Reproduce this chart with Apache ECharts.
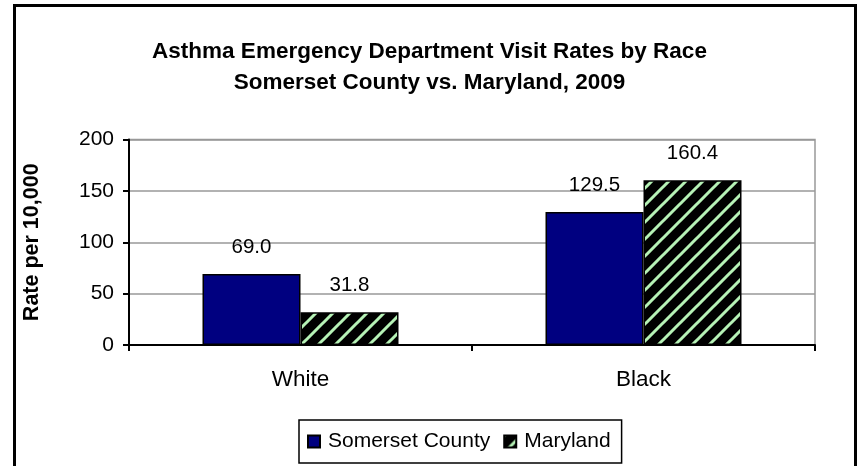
<!DOCTYPE html>
<html><head><meta charset="utf-8">
<script src="https://cdn.jsdelivr.net/npm/echarts@6/dist/echarts.min.js"></script>
<style>html,body{margin:0;padding:0;background:#fff}#c{width:859px;height:466px}</style>
</head><body><div id="c"></div>
<script>
const categories = ['White', 'Black'];
const somersetValues = [69.0, 129.5];
const marylandValues = [31.8, 160.4];
const seriesNames = ['Somerset County', 'Maryland'];
const titleLines = ['Asthma Emergency Department Visit Rates by Race', 'Somerset County vs. Maryland, 2009'];
const yAxisTitle = 'Rate per 10,000';

function stripePattern() {
  const P = 17;
  const c = document.createElement('canvas');
  c.width = P; c.height = P;
  const g = c.getContext('2d');
  g.fillStyle = '#000';
  g.fillRect(0, 0, P, P);
  g.strokeStyle = '#b6f2b6';
  g.lineWidth = 3;
  g.beginPath();
  g.moveTo(-P, P); g.lineTo(P, -P);
  g.moveTo(0, 2*P); g.lineTo(2*P, 0);
  g.moveTo(0, P); g.lineTo(P, 0);
  g.stroke();
  return c;
}
const pat = stripePattern();
const FONT = '"Liberation Sans", Arial, sans-serif';

const chart = echarts.init(document.getElementById('c'), null, {renderer: 'canvas'});
chart.setOption({
  animation: false,
  title: {
    text: titleLines.join('\n'),
    left: 'center', top: 31,
    textStyle: {fontFamily: FONT, fontWeight: 'bold', fontSize: 22.5, lineHeight: 31, color: '#000'}
  },
  graphic: [{
    type: 'rect', left: 12, top: 3, silent: true,
    shape: {x: 0, y: 0, width: 841, height: 470},
    style: {fill: 'none', stroke: '#000', lineWidth: 3}
  }],
  legend: {
    data: seriesNames,
    left: 299, top: 420,
    padding: [11, 11, 11, 8],
    itemWidth: 12, itemHeight: 12, itemGap: 13,
    borderColor: '#000', borderWidth: 1.5,
    icon: 'rect',
    textStyle: {fontFamily: FONT, fontSize: 21, color: '#000', padding: [0, 0, 0, 3]}
  },
  grid: {left: 129, right: 44, top: 139.5, bottom: 121, show: true, borderColor: '#999', borderWidth: 1.5, backgroundColor: 'transparent'},
  xAxis: {
    type: 'category', data: categories,
    axisLine: {lineStyle: {color: '#000', width: 2}},
    axisTick: {show: true, length: 6, lineStyle: {color: '#000', width: 2}},
    axisLabel: {fontFamily: FONT, fontSize: 22.5, color: '#000', margin: 23}
  },
  yAxis: {
    type: 'value', min: 0, max: 200, interval: 50,
    name: yAxisTitle, nameLocation: 'middle', nameGap: 86,
    nameTextStyle: {fontFamily: FONT, fontWeight: 'bold', fontSize: 21.5, color: '#000'},
    axisLine: {show: true, lineStyle: {color: '#000', width: 2}},
    axisTick: {show: true, length: 6, lineStyle: {color: '#000', width: 2}},
    axisLabel: {fontFamily: FONT, fontSize: 21, color: '#000', margin: 15},
    splitLine: {lineStyle: {color: '#999', width: 1.5}}
  },
  series: [{
    name: seriesNames[0], type: 'bar', data: somersetValues,
    barWidth: 98, barGap: '0%',
    itemStyle: {color: '#000080', borderColor: '#000', borderWidth: 1.5},
    label: {show: true, position: 'top', distance: 16, formatter: p => p.value.toFixed(1), fontFamily: FONT, fontSize: 20.5, color: '#000'}
  }, {
    name: seriesNames[1], type: 'bar', data: marylandValues,
    barWidth: 98,
    itemStyle: {color: {image: pat, repeat: 'repeat'}, borderColor: '#000', borderWidth: 1.5},
    label: {show: true, position: 'top', distance: 16, formatter: p => p.value.toFixed(1), fontFamily: FONT, fontSize: 20.5, color: '#000'}
  }]
});
</script></body></html>
